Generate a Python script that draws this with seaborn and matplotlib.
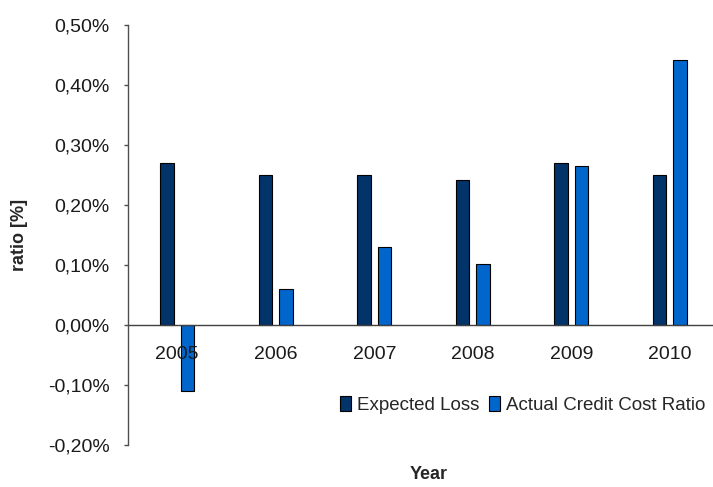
import pandas as pd
import matplotlib
matplotlib.use("Agg")
import matplotlib.pyplot as plt
from matplotlib.ticker import FixedLocator, FuncFormatter
import seaborn as sns

# values (in %)
years = ["2005", "2006", "2007", "2008", "2009", "2010"]
expected_loss = [0.27, 0.25, 0.25, 0.242, 0.27, 0.25]
actual_ccr = [-0.11, 0.06, 0.13, 0.102, 0.265, 0.442]
series_names = ["Expected Loss", "Actual Credit Cost Ratio"]
colors = ["#02346A", "#0066CC"]

df = pd.DataFrame({
    "Year": years * 2,
    "ratio": expected_loss + actual_ccr,
    "series": [series_names[0]] * len(years) + [series_names[1]] * len(years),
})

sns.set_style("white")
plt.rcParams["font.family"] = ["Liberation Sans", "DejaVu Sans"]

fig = plt.figure(figsize=(7.13, 4.87), dpi=100)
ax = fig.add_axes([128 / 713, 1 - 445 / 487, 591 / 713, 420 / 487])

sns.barplot(data=df, x="Year", y="ratio", hue="series", palette=colors,
            saturation=1, width=0.42, gap=1 / 3, errorbar=None,
            edgecolor="black", linewidth=0.8, ax=ax)

ax.set_xlim(-0.5, 5.5)
ax.set_ylim(-0.2, 0.5)
ax.set_yticks([-0.2, -0.1, 0.0, 0.1, 0.2, 0.3, 0.4, 0.5])
ax.yaxis.set_major_formatter(FuncFormatter(
    lambda v, p: ("%.2f%%" % (0.0 if abs(v) < 1e-9 else v)).replace(".", ",")))

# x axis sits on the zero line, ticks between the categories
for s in ["top", "right"]:
    ax.spines[s].set_visible(False)
ax.spines["bottom"].set_position(("data", 0))
ax.spines["bottom"].set_color("#404040")
ax.spines["left"].set_color("#505050")
ax.spines["bottom"].set_linewidth(1.0)
ax.spines["left"].set_linewidth(1.0)
ax.set_axisbelow(False)  # year labels drawn on top of the bars
ax.xaxis.set_minor_locator(FixedLocator([0.5, 1.5, 2.5, 3.5, 4.5]))
ax.tick_params(axis="x", which="major", length=0, pad=15, labelsize=14,
               colors="#1a1a1a")
ax.tick_params(axis="x", which="minor", length=3.5, width=1, color="#404040",
               direction="out")
ax.tick_params(axis="y", length=3, width=1, color="#505050", pad=10,
               labelsize=14, colors="#1a1a1a", left=True)
ax.grid(False)

ax.set_ylabel("ratio [%]", fontsize=13, fontweight="bold")
ax.yaxis.set_label_coords(-0.169, 0.5)
ax.set_xlabel("Year", fontsize=13, fontweight="bold")
ax.xaxis.set_label_coords(0.508, -0.05)

ax.legend_.remove()
handles = [plt.Rectangle((0, 0), 1, 1, facecolor=c, edgecolor="black",
                         linewidth=0.8) for c in colors]
fig.legend(handles, series_names, loc="center left",
           bbox_to_anchor=(340 / 713, 1 - 405 / 487), ncol=2, frameon=False,
           fontsize=13.5, handlelength=0.6, handleheight=0.8,
           handletextpad=0.3, columnspacing=0.5, borderpad=0, borderaxespad=0)

fig.savefig("out.png", dpi=100)
